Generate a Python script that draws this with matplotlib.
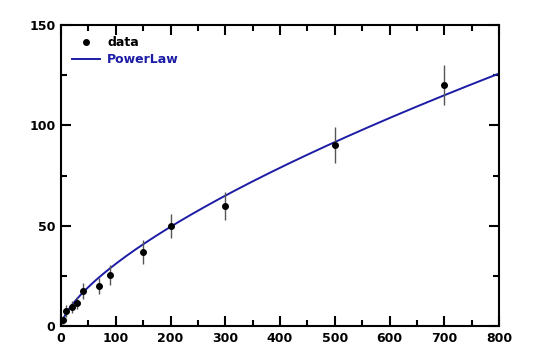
import numpy as np
import matplotlib.pyplot as plt
from matplotlib.ticker import MultipleLocator

# data
x_data = [3, 10, 20, 30, 40, 70, 90, 150, 200, 300, 500, 700]
y_data = [3, 7.5, 9.5, 11.5, 17.5, 20, 25.5, 37, 50, 60, 90, 120]
y_err = [2, 3, 3, 3, 4, 4, 5, 6, 6, 7, 9, 10]

# power law y = a * x**b
a_fit = 1.39
b_fit = 0.674

plt.rcParams['font.family'] = 'DejaVu Sans'
plt.rcParams['font.weight'] = 'bold'

fig = plt.figure(figsize=(5.4, 3.6), dpi=100)
ax = fig.add_axes([61 / 540, 34 / 360, 438 / 540, 301 / 360])

xs = np.linspace(0, 800, 400)
eb = ax.errorbar(x_data, y_data, yerr=y_err, fmt='o', color='black', ms=4,
                 ecolor='#555555', elinewidth=1, capsize=0, zorder=3)
ln, = ax.plot(xs, a_fit * xs ** b_fit, color='#1c1ca6', lw=1.4, zorder=2)

ax.set_xlim(0, 800)
ax.set_ylim(0, 150)
ax.xaxis.set_major_locator(MultipleLocator(100))
ax.xaxis.set_minor_locator(MultipleLocator(50))
ax.yaxis.set_major_locator(MultipleLocator(50))
ax.yaxis.set_minor_locator(MultipleLocator(25))
ax.tick_params(which='both', direction='in', top=True, right=True, width=1.5,
               labelsize=9)
ax.tick_params(which='major', length=7, pad=4)
ax.tick_params(which='minor', length=4)
for s in ax.spines.values():
    s.set_linewidth(1.5)
for lbl in ax.get_xticklabels() + ax.get_yticklabels():
    lbl.set_fontweight('bold')

dot, = ax.plot([], [], 'o', color='black', ms=4)
leg = ax.legend([dot, ln], ['data', 'PowerLaw'], loc='upper left', frameon=False,
                fontsize=9, handlelength=2.2, borderaxespad=0.5,
                handletextpad=0.6, labelspacing=0.3, numpoints=1)
for t, c in zip(leg.get_texts(), ['black', '#1c1ca6']):
    t.set_color(c)
    t.set_fontweight('bold')

fig.savefig('out.png', dpi=100)
